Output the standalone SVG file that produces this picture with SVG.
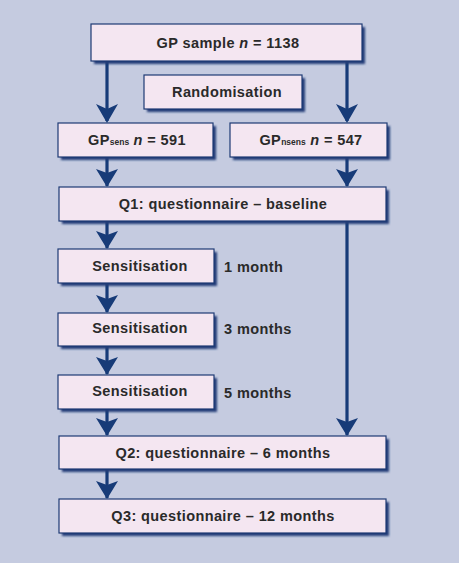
<svg xmlns="http://www.w3.org/2000/svg" width="459" height="563" viewBox="0 0 459 563">
<defs>
<style>
.box{fill:#f4e6f1;stroke:#1d3a74;stroke-width:1.2}
.sh{fill:#203e78;filter:url(#blur)}
.t{font-family:"Liberation Sans",Arial,sans-serif;font-weight:bold;font-size:14.5px;fill:#2a2a2a;letter-spacing:0.4px}
.tc{text-anchor:middle}
.sub{font-size:8.5px;letter-spacing:0}
.ln{stroke:#173b78;stroke-width:3.2;fill:none}
.ah{fill:#173b78}
</style>
<filter id="blur" x="-10%" y="-20%" width="130%" height="150%"><feGaussianBlur stdDeviation="0.8"/></filter>
</defs>
<rect width="459" height="563" fill="#c5cbe0"/>
<g id="connectors">
<path class="ln" d="M107,61 V121"/>
<path class="ln" d="M347,61 V121"/>
<path class="ln" d="M107,157 V186"/>
<path class="ln" d="M347,157 V186"/>
<path class="ln" d="M107,221 V248"/>
<path class="ln" d="M107,283 V312"/>
<path class="ln" d="M107,346 V374"/>
<path class="ln" d="M107,409 V435"/>
<path class="ln" d="M347,221 V435"/>
<path class="ln" d="M107,469 V498"/>
<g class="ah">
<path d="M96,104 L107,123 L118,104 L107,109 Z"/>
<path d="M336,104 L347,123 L358,104 L347,109 Z"/>
<path d="M96,169 L107,187 L118,169 L107,173 Z"/>
<path d="M336,169 L347,187 L358,169 L347,173 Z"/>
<path d="M96,231 L107,249 L118,231 L107,235 Z"/>
<path d="M96,295 L107,313 L118,295 L107,299 Z"/>
<path d="M96,357 L107,375 L118,357 L107,361 Z"/>
<path d="M96,418 L107,436 L118,418 L107,422 Z"/>
<path d="M336,418 L347,436 L358,418 L347,422 Z"/>
<path d="M96,481 L107,499 L118,481 L107,485 Z"/>
</g>
</g>
<g id="gp-sample">
<rect class="sh" x="94" y="27" width="271" height="37"/>
<rect class="box" x="91" y="24" width="271" height="37"/>
<text class="t tc" x="228" y="48">GP sample <tspan font-style="italic">n</tspan> = 1138</text>
</g>
<g id="randomisation">
<rect class="sh" x="147" y="78" width="158" height="34"/>
<rect class="box" x="144" y="75" width="158" height="34"/>
<text class="t tc" x="227" y="97">Randomisation</text>
</g>
<g id="gp-sens">
<rect class="sh" x="61" y="126" width="155" height="34"/>
<rect class="box" x="58" y="123" width="155" height="34"/>
<text class="t tc" x="137" y="145">GP<tspan class="sub">sens</tspan> <tspan font-style="italic">n</tspan> = 591</text>
</g>
<g id="gp-nsens">
<rect class="sh" x="233" y="126" width="157" height="34"/>
<rect class="box" x="230" y="123" width="157" height="34"/>
<text class="t tc" x="311" y="145">GP<tspan class="sub">nsens</tspan> <tspan font-style="italic">n</tspan> = 547</text>
</g>
<g id="q1">
<rect class="sh" x="62" y="190" width="327" height="34"/>
<rect class="box" x="59" y="187" width="327" height="34"/>
<text class="t tc" x="223" y="209">Q1: questionnaire – baseline</text>
</g>
<g id="sens1">
<rect class="sh" x="61" y="252" width="156" height="34"/>
<rect class="box" x="58" y="249" width="156" height="34"/>
<text class="t tc" x="140" y="271">Sensitisation</text>
<text class="t" x="224" y="272">1 month</text>
</g>
<g id="sens2">
<rect class="sh" x="61" y="316" width="156" height="33"/>
<rect class="box" x="58" y="313" width="156" height="33"/>
<text class="t tc" x="140" y="333">Sensitisation</text>
<text class="t" x="224" y="334">3 months</text>
</g>
<g id="sens3">
<rect class="sh" x="61" y="378" width="156" height="34"/>
<rect class="box" x="58" y="375" width="156" height="34"/>
<text class="t tc" x="140" y="396">Sensitisation</text>
<text class="t" x="224" y="398">5 months</text>
</g>
<g id="q2">
<rect class="sh" x="62" y="439" width="327" height="33"/>
<rect class="box" x="59" y="436" width="327" height="33"/>
<text class="t tc" x="223" y="458">Q2: questionnaire – 6 months</text>
</g>
<g id="q3">
<rect class="sh" x="62" y="502" width="327" height="34"/>
<rect class="box" x="59" y="499" width="327" height="34"/>
<text class="t tc" x="223" y="521">Q3: questionnaire – 12 months</text>
</g>
</svg>
